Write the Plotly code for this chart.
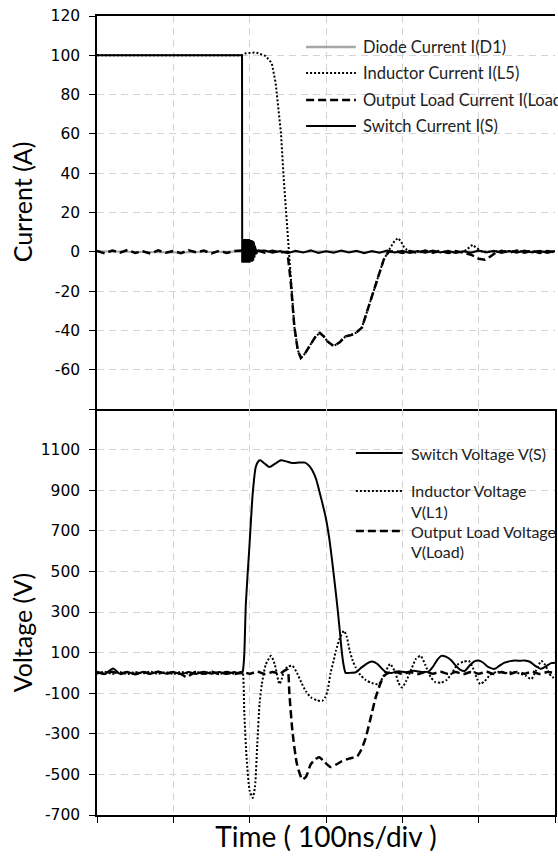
import plotly.graph_objects as go

# ---------------- TOP: currents (A) vs time (ns) ----------------
t_switch_i = [0, 190,
              190.2, 190.6, 191.0, 191.4, 191.8, 192.2, 192.6, 193.0, 193.4, 193.8,
              194.2, 194.6, 195.0, 195.4, 195.8, 196.2, 196.6, 197.0, 197.4, 197.8,
              198.2, 198.6, 199.0, 199.4, 199.8, 200.2, 200.6, 201.0, 201.4, 201.8,
              202.2, 202.6, 203.0, 203.4, 203.8, 204.2, 204.6, 205.0, 205.4, 205.8,
              206.2, 206.6, 207.0, 207.4, 207.8, 208.2, 209.0, 210.0,
              220, 230, 240, 250, 260, 270, 280, 290, 300, 310, 320, 330, 340, 350,
              360, 370, 380, 390, 400, 410, 420, 430, 440, 450, 460, 470, 480, 490,
              500, 510, 520, 530, 540, 550, 560, 570, 580, 590, 600]
switch_i = [100, 100,
            -5.5, 6.5, -5.5, 6.5, -5.5, 6.5, -5.5, 6.5, -5.5, 6.5,
            -5.5, 6.5, -5.5, 6.5, -5.5, 6.5, -5.5, 6.5, -5.5, 6.5,
            -5.5, 6.5, -5.5, 6.5, -5.5, 6, -5.5, 6, -5, 6,
            -5, 6, -5, 5.5, -5, 5.5, -4.5, 5, -4, 4,
            -3, 3, -2, 2, -1.5, 1.5, -1, 0.5,
            0.6, -0.5, 0.4, -0.7, 0.5, -0.4, 0.7, -0.6, 0.3, -0.5, 0.6, -0.4, 0.5, -0.7,
            0.4, -0.5, 0.6, -0.3, 0.5, -0.6, 0.4, -0.5, 0.7, -0.4, 0.5, -0.6, 0.3, -0.5,
            0.6, -0.4, 0.5, -0.6, 0.4, -0.5, 0.6, -0.3, 0.5, -0.6, 0.4]

t_inductor_i = [0, 190, 195, 208, 221, 229, 234, 241, 245, 249.5, 254, 258.5, 263, 267,
                272, 278, 286.5, 292, 297, 302, 310, 318, 325.7, 332, 339, 347, 356,
                365, 375.6, 384, 389, 394, 398, 401.7, 406, 412, 430, 460, 480, 487,
                492, 497, 505, 540, 600]
inductor_i = [100, 100, 101, 101.5, 99.6, 96, 86, 60.5, 35, 9.6, -16, -38, -50, -54,
              -52, -48, -43, -41.3, -43, -45.6, -48, -46, -43, -42.5, -41.3, -38.6, -27.8,
              -15.8, -4, 1.9, 5, 7, 5.5, 2.7, 1, 0, 0.3, -0.3, 0, 2, 3.6, 2, 0, 0.3, 0]

t_load_i = [0, 10, 20, 30, 40, 50, 60, 70, 80, 90, 100, 110, 120, 130, 140, 150, 160,
            170, 180, 190, 200, 210, 220, 230, 240, 249.5, 254, 258.5, 263, 267, 272,
            278, 286.5, 292, 297, 302, 310, 318, 325.7, 332, 339, 347, 356, 365, 375.6,
            382, 390, 400, 410, 420, 430, 440, 450, 460, 470, 480, 490, 500, 508, 515,
            522, 530, 540, 550, 560, 570, 580, 590, 600]
load_i = [0.5, -0.8, 0.6, -0.4, 0.9, -0.6, 0.3, -0.9, 0.7, -0.5, 0.4, -0.7, 0.8, -0.3,
          0.6, -0.8, 0.5, -0.6, 0.4, 0.6, -0.5, 0.7, -0.4, 0.5, -0.3, 0, -16, -38, -50,
          -54, -52, -48, -43, -41.3, -43, -45.6, -48, -46, -43, -42.5, -41.3, -38.6,
          -27.8, -15.8, -4, 0, 0.5, -0.6, 0.4, -0.5, 0.6, -0.4, 0.5, -0.6, 0.4, -0.5,
          -1.5, -3.5, -4, -2.5, -0.5, 0.5, -0.5, 0.6, -0.4, 0.5, -0.6, 0.4, -0.3]

t_diode_i = [0, 100, 190, 250, 300, 400, 500, 600]
diode_i = [0.3, -0.3, 0.2, -0.2, 0.3, -0.3, 0.2, 0]

# ---------------- BOTTOM: voltages (V) vs time (ns) ----------------
t_switch_v = [0, 10, 21, 30, 40, 50, 60, 70, 80, 90, 100, 110, 120, 130, 140, 150, 160,
              170, 180, 186, 190.5, 191.5, 193, 195, 199.6, 204, 208, 211.7, 214, 220,
              226, 233, 241, 248, 256, 265, 272.6, 278, 282, 287, 291, 295, 299.6, 304,
              308, 311.5, 315, 318, 321, 323.5, 325.7, 330, 339, 346, 353, 360, 367,
              373, 378, 386, 395, 405, 415, 425, 434, 440, 446, 451, 457, 464, 470, 476,
              482, 489, 495, 500, 506, 513, 521, 527, 534, 541, 548, 555, 560, 567, 574,
              582, 589, 595, 600]
switch_v = [3, -6, 22, -4, 5, -7, 4, -5, 6, -3, 5, -6, 4, -5, 6, -4, 5, -6, 4, -3, 0,
            20, 94, 341, 619, 884, 1014, 1044, 1047, 1030, 1014, 1030, 1047, 1042, 1034,
            1036, 1036, 1020, 998, 955, 899, 840, 767, 670, 553, 440, 323, 210, 94, 30,
            0, 0, 3, 25, 45, 56, 45, 22, 5, 0, 8, 3, 10, 5, 6, 30, 65, 84, 80, 62, 35,
            15, 10, 40, 58, 61, 50, 28, 20, 35, 51, 58, 61, 60, 61, 55, 35, 20, 35, 48,
            50]

t_inductor_v = [0, 10, 20, 30, 40, 50, 60, 70, 80, 90, 100, 110, 120, 130, 140, 150,
                160, 170, 180, 190, 191, 193, 196, 200, 204, 207, 210, 213, 216, 221,
                228, 233, 239, 242, 245, 250, 256, 262, 268, 273.5, 280, 288, 295, 299,
                302, 306, 310, 313, 318, 323.5, 327, 331, 335, 339, 345, 352, 360, 369,
                376, 384, 391, 395, 399.5, 405, 412, 418, 424, 430, 437, 443, 451, 458,
                465, 472, 480, 487, 493, 498, 502, 508, 515, 524, 535, 545, 555, 562,
                569, 575, 582, 587, 592, 597, 600]
inductor_v = [-4, 6, -5, 4, -6, 5, -3, 6, -5, 4, -6, 5, -4, 6, -5, 4, -6, 5, -4, 2, 0,
              -200, -420, -580, -616, -560, -350, -150, -55, 40, 84, 40, -55, -30, 10,
              30, 35, 0, -50, -89, -120, -135, -138, -120, -89, 0, 60, 109, 170, 207,
              180, 110, 60, 26, -10, -35, -50, -55, -10, 44, 0, -50, -72, -40, 20, 70,
              84, 40, -20, -45, -48, -35, 0, 40, 55, 59, 20, -30, -55, -40, -10, 5, 0,
              5, -5, -15, -30, 10, 59, 40, 0, -23, -10]

t_load_v = [0, 10, 20, 30, 40, 50, 60, 70, 80, 90, 100, 110, 117, 124, 130, 140, 150,
            160, 170, 180, 190, 200, 210, 220, 230, 240, 245, 249.6, 252, 256, 262, 269,
            274, 280, 286, 291, 297, 306, 313, 321, 330, 341, 346, 352, 358, 365, 371,
            376, 382, 390, 400, 410, 420, 430, 440, 450, 460, 470, 480, 490, 500, 510,
            520, 530, 540, 550, 560, 570, 580, 590, 600]
load_v = [5, -4, 6, -5, 4, -6, 5, -4, 6, -5, 4, -6, -20, -6, 5, -4, 6, -5, 4, -6, 5,
          -4, 6, -5, 4, -3, 10, 15, -100, -287, -450, -525, -510, -451, -425, -415, -435,
          -464, -452, -435, -422, -410, -380, -320, -230, -122, -55, -15, 0, 6, -5, 4,
          -6, 5, -4, 6, -5, 4, -6, 5, -4, 6, -5, 4, -6, 5, -4, 6, -5, 4, 0]

# tick labels
y_top_ticks = [-80, -60, -40, -20, 0, 20, 40, 60, 80, 100, 120]
y_top_labels = ["", "-60", "-40", "-20", "0", "20", "40", "60", "80", "100", "120"]
y_bot_ticks = [-700, -500, -300, -100, 100, 300, 500, 700, 900, 1100, 1300]
y_bot_labels = ["-700", "-500", "-300", "-100", "100", "300", "500", "700", "900", "1100", ""]
x_ticks = [0, 100, 200, 300, 400, 500, 600]

top_names = ["Diode Current I(D1)", "Inductor Current I(L5)",
             "Output Load Current I(Load)", "Switch Current I(S)"]
bot_names = [["Switch Voltage V(S)"], ["Inductor Voltage", "V(L1)"],
             ["Output Load Voltage", "V(Load)"]]

# ---------------- figure ----------------
W, H = 558, 862
ML, MR, MT, MB = 97, 1, 16, 47
PH = H - MT - MB
split = (H - MB - 409) / PH

DOT = "2px,2px"
DASH = "8px,4px"

fig = go.Figure()
fig.add_trace(go.Scatter(x=t_diode_i, y=diode_i, mode="lines", xaxis="x", yaxis="y",
                         line=dict(color="#a6a6a6", width=2), showlegend=False))
fig.add_trace(go.Scatter(x=t_inductor_i, y=inductor_i, mode="lines", xaxis="x", yaxis="y",
                         line=dict(color="black", width=2, dash=DOT), showlegend=False))
fig.add_trace(go.Scatter(x=t_load_i, y=load_i, mode="lines", xaxis="x", yaxis="y",
                         line=dict(color="black", width=2.5, dash=DASH), showlegend=False))
fig.add_trace(go.Scatter(x=t_switch_i, y=switch_i, mode="lines", xaxis="x", yaxis="y",
                         line=dict(color="black", width=2), showlegend=False))

fig.add_trace(go.Scatter(x=t_switch_v, y=switch_v, mode="lines", xaxis="x2", yaxis="y2",
                         line=dict(color="black", width=2, shape="spline", smoothing=0.6),
                         showlegend=False))
fig.add_trace(go.Scatter(x=t_inductor_v, y=inductor_v, mode="lines", xaxis="x2", yaxis="y2",
                         line=dict(color="black", width=2, dash=DOT, shape="spline",
                                   smoothing=0.6), showlegend=False))
fig.add_trace(go.Scatter(x=t_load_v, y=load_v, mode="lines", xaxis="x2", yaxis="y2",
                         line=dict(color="black", width=2.5, dash=DASH, shape="spline",
                                   smoothing=0.6), showlegend=False))

tickfont = dict(family="DejaVu Sans", size=15.5, color="black")
grid = dict(showgrid=True, gridcolor="#d4d4d4", griddash="7px,5px", gridwidth=1)

fig.update_layout(
    width=W, height=H, margin=dict(l=ML, r=MR, t=MT, b=MB, pad=0),
    paper_bgcolor="white", plot_bgcolor="white",
    xaxis=dict(domain=[0, 1], range=[0, 600], anchor="y", tickvals=x_ticks,
               showticklabels=False, ticks="", showline=True, linecolor="black",
               linewidth=1.5, mirror=True, zeroline=False, **grid),
    yaxis=dict(domain=[split, 1], range=[-80, 120], tickvals=y_top_ticks,
               ticktext=y_top_labels, ticks="outside", ticklen=6, tickcolor="black",
               tickwidth=1.2, showline=True, linecolor="black", linewidth=1.5,
               zeroline=False, tickfont=tickfont, ticklabelstandoff=6, **grid),
    xaxis2=dict(domain=[0, 1], range=[0, 600], anchor="y2", tickvals=x_ticks,
                showticklabels=False, ticks="outside", ticklen=6, tickcolor="black",
                tickwidth=1.2, showline=True, linecolor="black", linewidth=1.5,
                zeroline=False,
                title=dict(text="Time ( 100ns/div )", standoff=6,
                           font=dict(family="Lato", size=28, color="black")),
                **grid),
    yaxis2=dict(domain=[0, split], range=[-700, 1300], tickvals=y_bot_ticks,
                ticktext=y_bot_labels, ticks="outside", ticklen=6, tickcolor="black",
                tickwidth=1.2, showline=True, linecolor="black", linewidth=1.5,
                mirror=True, zeroline=False, tickfont=tickfont, ticklabelstandoff=6,
                **grid),
)

def px_x(px):
    return (px - ML) / (W - ML - MR)

def px_y(py):
    return (H - MB - py) / PH

ann = []
shapes = []
# y-axis titles
ann.append(dict(text="Current (A)", x=px_x(22), y=px_y(202), xref="paper", yref="paper",
                textangle=-90, showarrow=False, xanchor="center", yanchor="middle",
                font=dict(family="Lato", size=25, color="black")))
ann.append(dict(text="Voltage (V)", x=px_x(22), y=px_y(632), xref="paper", yref="paper",
                textangle=-90, showarrow=False, xanchor="center", yanchor="middle",
                font=dict(family="Lato", size=25, color="black")))

legfont = dict(family="Lato", size=16.5, color="#222")
top_styles = [("#a6a6a6", None, 2.5), ("black", DOT, 2), ("black", DASH, 2.5), ("black", None, 2)]
top_rows = [47, 73, 100, 126]
for name, (col, dash, w), py in zip(top_names, top_styles, top_rows):
    shapes.append(dict(type="line", xref="paper", yref="paper", x0=px_x(307), x1=px_x(357),
                       y0=px_y(py), y1=px_y(py), line=dict(color=col, width=w, dash=dash)))
    ann.append(dict(text=name, x=px_x(362), y=px_y(py), xref="paper", yref="paper",
                    showarrow=False, xanchor="left", yanchor="middle", font=legfont))

legfont2 = dict(family="Lato", size=16, color="#222")
bot_styles = [("black", None, 2), ("black", DOT, 2), ("black", DASH, 2.5)]
bot_rows = [453, 491, 531]
for lines, (col, dash, w), py in zip(bot_names, bot_styles, bot_rows):
    shapes.append(dict(type="line", xref="paper", yref="paper", x0=px_x(357), x1=px_x(404),
                       y0=px_y(py), y1=px_y(py), line=dict(color=col, width=w, dash=dash)))
    for k, txt in enumerate(lines):
        ann.append(dict(text=txt, x=px_x(410), y=px_y(py + 20 * k), xref="paper",
                        yref="paper", showarrow=False, xanchor="left", yanchor="middle",
                        font=legfont2))

fig.update_layout(annotations=ann, shapes=shapes)
fig.write_html("out.html")
